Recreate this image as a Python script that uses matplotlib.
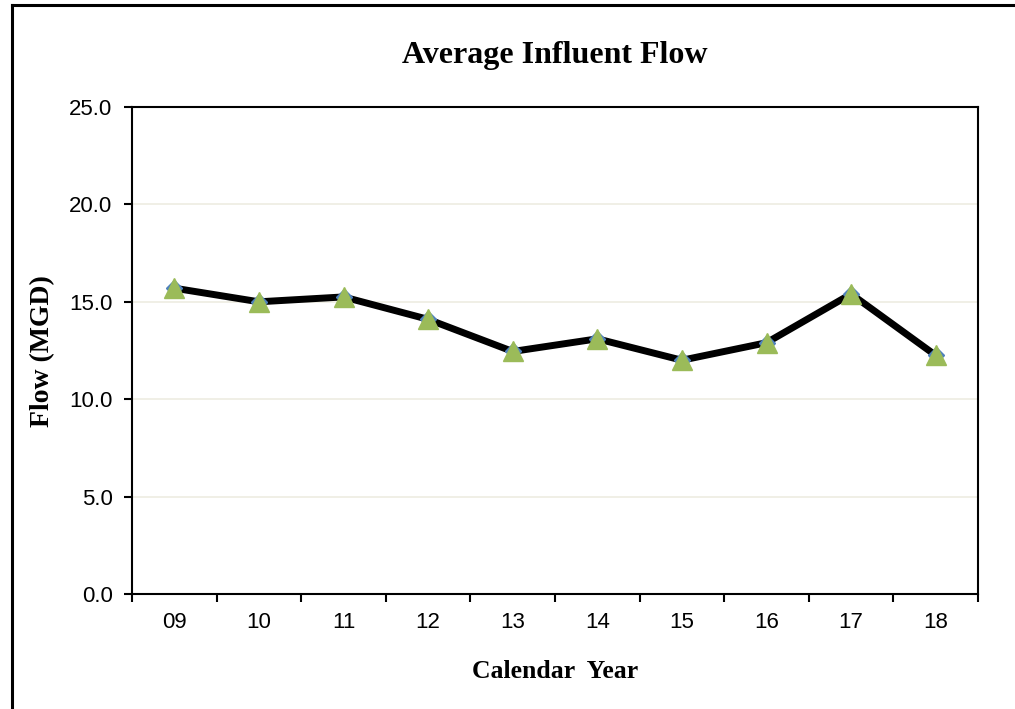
import numpy as np
import matplotlib.pyplot as plt
from matplotlib.lines import Line2D

years = ['09', '10', '11', '12', '13', '14', '15', '16', '17', '18']
flow = [15.7, 15.0, 15.25, 14.1, 12.45, 13.1, 12.0, 12.9, 15.4, 12.25]

W, H = 1015, 709
fig = plt.figure(figsize=(W / 100, H / 100), dpi=100)
ax = fig.add_axes([132 / W, 1 - 594 / H, (978 - 132) / W, (594 - 107) / H])

# outer frame of the chart (right and bottom edges fall outside the image)
fig.add_artist(Line2D([12 / W, 1.01], [1 - 5 / H, 1 - 5 / H], color='black', lw=2.2,
                      transform=fig.transFigure))
fig.add_artist(Line2D([12 / W, 12 / W], [-0.01, 1 - 5 / H], color='black', lw=2.2,
                      transform=fig.transFigure))

x = np.arange(len(years))
ax.plot(x, flow, color='black', lw=5, zorder=3)
ax.plot(x, flow, linestyle='none', marker='D', ms=8.5, color='#4F81BD', zorder=4)
ax.plot(x, flow, linestyle='none', marker='^', ms=15, color='#9BBB59', zorder=5)

ax.set_xlim(-0.5, len(years) - 0.5)
ax.set_ylim(0, 25)
ax.set_yticks(np.arange(0, 25.1, 5))
ax.set_yticklabels(['%.1f' % v for v in np.arange(0, 25.1, 5)],
                   fontfamily='Liberation Sans', fontsize=16)
ax.set_xticks(x)
ax.set_xticklabels(years, fontfamily='Liberation Sans', fontsize=16)
ax.set_xticks(np.arange(-0.5, len(years), 1), minor=True)
ax.tick_params(axis='x', which='major', length=0, pad=13)
ax.tick_params(axis='x', which='minor', length=6, width=1.5, direction='out')
ax.tick_params(axis='y', length=6, width=1.5, direction='out', pad=8)

for v in [5, 10, 15, 20]:
    ax.axhline(v, color='#EEECE1', lw=1.2, zorder=1)

for s in ax.spines.values():
    s.set_linewidth(1.5)
    s.set_color('black')

fig.text((132 + 978) / 2 / W, 1 - 55 / H, 'Average Influent Flow', ha='center', va='center',
         fontfamily='Liberation Serif', fontweight='bold', fontsize=23)
fig.text((132 + 978) / 2 / W, 1 - 671 / H, 'Calendar  Year', ha='center', va='center',
         fontfamily='Liberation Serif', fontweight='bold', fontsize=18.5)
fig.text(43 / W, 1 - 351 / H, 'Flow (MGD)', ha='center', va='center', rotation=90,
         fontfamily='Liberation Serif', fontweight='bold', fontsize=20)

fig.savefig('out.png', dpi=100)
